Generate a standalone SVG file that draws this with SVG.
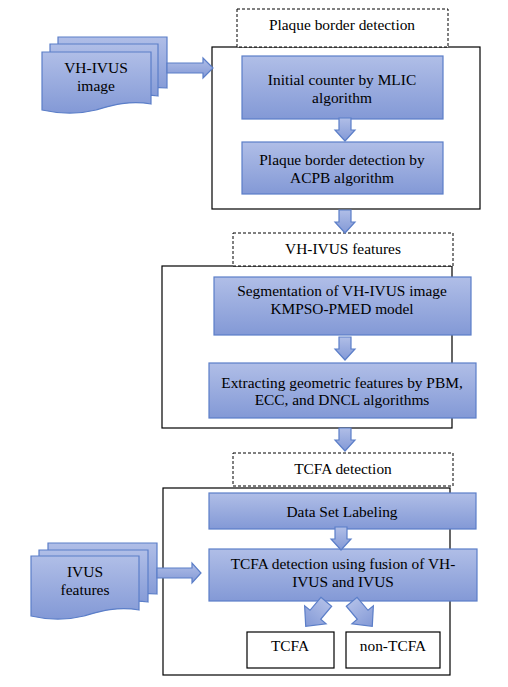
<svg xmlns="http://www.w3.org/2000/svg" width="508" height="687" viewBox="0 0 508 687">
<defs>
<linearGradient id="g" x1="0" y1="0" x2="0" y2="1">
<stop offset="0" stop-color="#b0bee7"/>
<stop offset="1" stop-color="#8399d6"/>
</linearGradient>
<path id="darr" d="M-6,-12 H6 V0 H10 L0,11 L-10,0 H-6 Z"/>
<path id="dgarr" d="M-7,-16 H7 V1 H14 L0,16 L-14,1 H-7 Z"/>
</defs>
<style>
.blue{fill:url(#g);stroke:#5b7ec8;stroke-width:1.2}
.frame{fill:#fff;stroke:#000;stroke-width:1.2}
.dash{fill:#fff;stroke:#000;stroke-width:1;stroke-dasharray:3,2}
.box{fill:#fff;stroke:#000;stroke-width:1.2}
</style>
<rect width="508" height="687" fill="#fff"/>

<g id="frame1"><rect class="frame" x="212" y="47" width="268" height="162"/></g>
<g id="frame2"><rect class="frame" x="162" y="266" width="290" height="162"/></g>
<g id="frame3"><rect class="frame" x="163" y="488" width="287" height="187"/></g>

<g font-family="Liberation Serif" font-size="15.4" text-anchor="middle">
<g id="title1"><rect class="dash" x="237" y="9" width="211" height="38"/><text x="342" y="30">Plaque border detection</text></g>
<g id="title2"><rect class="dash" x="233" y="233" width="220" height="33"/><text x="343" y="254">VH-IVUS features</text></g>
<g id="title3"><rect class="dash" x="233" y="453" width="220" height="33"/><text x="343" y="474">TCFA detection</text></g>

<g id="vhivus-image">
<path class="blue" d="M58,37 H167 V88 C150,86 140,90 130,92 L58,92 Z"/>
<path class="blue" d="M50,44 H158 V96 C140,93 125,98 112,100 L50,100 Z"/>
<path class="blue" d="M42,52 H151 V104 C128,100 110,106 96,110 C80,114 60,114 42,110 Z"/>
<text font-size="15.5" x="96" y="73">VH-IVUS</text>
<text font-size="15.5" x="96" y="91">image</text>
</g>

<g id="ivus-features">
<path class="blue" d="M48,543 H157 V594 C140,592 130,596 120,598 L48,598 Z"/>
<path class="blue" d="M39,550 H148 V602 C130,599 115,604 102,606 L39,606 Z"/>
<path class="blue" d="M31,556 H139 V610 C116,606 98,612 84,616 C68,620 48,620 31,616 Z"/>
<text font-size="15.5" x="85" y="577">IVUS</text>
<text font-size="15.5" x="85" y="595">features</text>
</g>

<g id="n1"><rect class="blue" x="242" y="56" width="201" height="63"/><text x="342" y="85">Initial counter by MLIC</text><text x="342" y="103">algorithm</text></g>
<g id="n2"><rect class="blue" x="242" y="142" width="201" height="52"/><text x="342" y="165">Plaque border detection by</text><text x="342" y="183">ACPB algorithm</text></g>
<g id="n3"><rect class="blue" x="214" y="277" width="257" height="58"/><text x="342" y="296">Segmentation of VH-IVUS image</text><text x="342" y="314">KMPSO-PMED model</text></g>
<g id="n4"><rect class="blue" x="209" y="363" width="267" height="55"/><text x="342" y="388">Extracting geometric features by PBM,</text><text x="342" y="405">ECC, and DNCL algorithms</text></g>
<g id="n5"><rect class="blue" x="209" y="493" width="267" height="36"/><text x="342" y="517">Data Set Labeling</text></g>
<g id="n6"><rect class="blue" x="209" y="549" width="268" height="52"/><text x="343" y="569">TCFA detection using fusion of VH-</text><text x="343" y="587">IVUS and IVUS</text></g>
<g id="tcfa"><rect class="box" x="247" y="632" width="87" height="36"/><text x="290" y="651">TCFA</text></g>
<g id="nontcfa"><rect class="box" x="346" y="632" width="94" height="36"/><text x="393" y="651">non-TCFA</text></g>
</g>

<g id="connectors">
<path class="blue" d="M167,63 H203 V58 L213,68 L203,78 V73 H167 Z"/>
<path class="blue" d="M157,568 H192 V563 L201,573 L192,583 V578 H157 Z"/>
<use href="#darr" class="blue" transform="translate(345,130)"/>
<use href="#darr" class="blue" transform="translate(345,222)"/>
<use href="#darr" class="blue" transform="translate(345,349)"/>
<use href="#darr" class="blue" transform="translate(345,440)"/>
<use href="#darr" class="blue" transform="translate(341,539)"/>
<use href="#dgarr" class="blue" transform="translate(316,614) rotate(40)"/>
<use href="#dgarr" class="blue" transform="translate(362,614) rotate(-40)"/>
</g>
</svg>
